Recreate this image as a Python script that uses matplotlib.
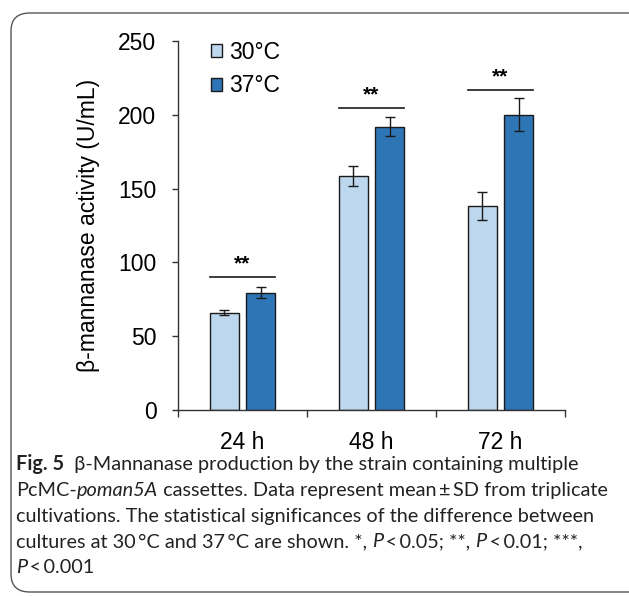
import numpy as np
import matplotlib.pyplot as plt
from matplotlib.patches import FancyBboxPatch

# datos
categorias = ['24 h', '48 h', '72 h']
media_30 = [66, 158.5, 138.5]
sd_30 = [1.5, 6.8, 9.5]
media_37 = [79.5, 192, 200]
sd_37 = [3.8, 6.3, 11.3]
sig_nivel = [90, 204.5, 217]
sig_texto = ['**', '**', '**']

fig = plt.figure(figsize=(6.29, 5.96), dpi=100)

# marco redondeado
marco = FancyBboxPatch((11 / 629, 4 / 596), 640 / 629, 579 / 596,
                       boxstyle='round,pad=0,rounding_size=0.03',
                       transform=fig.transFigure, fill=False,
                       edgecolor='#555555', linewidth=1.0, clip_on=False)
fig.patches.append(marco)

ax = fig.add_axes([178 / 629, 1 - 410 / 596, 387 / 629, 369 / 596])
chart_font = 'Liberation Sans'
fs = 16.5

x = np.arange(len(categorias))
w = 0.225
off = 0.143
ax.bar(x - off, media_30, w, color='#BDD7EE', edgecolor='#1a1a1a', linewidth=1.0,
       label='30°C', zorder=2)
ax.bar(x + off, media_37, w, color='#2E75B6', edgecolor='#1a1a1a', linewidth=1.0,
       label='37°C', zorder=2)
ax.errorbar(x - off, media_30, yerr=sd_30, fmt='none', ecolor='#1a1a1a',
            elinewidth=1.0, capsize=3.5, capthick=1.0, zorder=3)
ax.errorbar(x + off, media_37, yerr=sd_37, fmt='none', ecolor='#1a1a1a',
            elinewidth=1.0, capsize=3.5, capthick=1.0, zorder=3)

# lineas de significancia
for i in range(len(categorias)):
    ax.plot([x[i] - off - w / 2, x[i] + off + w / 2], [sig_nivel[i], sig_nivel[i]],
            color='#1a1a1a', linewidth=1.2, clip_on=False)
    ax.text(x[i], sig_nivel[i] + 2.5, sig_texto[i], ha='center', va='bottom',
            fontsize=15, family=chart_font, fontweight='bold')

ax.set_xlim(-0.5, 2.5)
ax.set_ylim(0, 250)
ax.set_yticks([0, 50, 100, 150, 200, 250])
ax.set_xticks(x)
ax.set_xticklabels(categorias)
ax.set_xticks([-0.5, 0.5, 1.5, 2.5], minor=True)
ax.tick_params(axis='x', which='major', length=0, pad=15)
ax.tick_params(axis='x', which='minor', length=5, width=1.0, color='#333333')
ax.tick_params(axis='y', length=4.5, width=1.0, color='#333333', pad=11)
for lab in ax.get_xticklabels() + ax.get_yticklabels():
    lab.set_fontfamily(chart_font)
    lab.set_fontsize(fs)
for s in ['top', 'right']:
    ax.spines[s].set_visible(False)
for s in ['left', 'bottom']:
    ax.spines[s].set_color('#333333')
    ax.spines[s].set_linewidth(1.0)
ax.set_ylabel('β-mannanase activity (U/mL)', fontsize=fs, family=chart_font, labelpad=13)

ax.legend(loc='upper left', bbox_to_anchor=(0.085, 1.0), frameon=False, borderpad=0,
          borderaxespad=0, handlelength=0.5, handleheight=0.5, handletextpad=0.3,
          labelspacing=0.45, prop={'family': chart_font, 'size': fs})

# pie de figura
cap_font = 'Lato'
cap_size = 14.3
th = '\u2009'
lineas = [
    [('Fig. 5', 'bold', 'normal'), ('  β-Mannanase production by the strain containing multiple', 'normal', 'normal')],
    [('PcMC-', 'normal', 'normal'), ('poman5A', 'normal', 'italic'),
     (' cassettes. Data represent mean' + th + '±' + th + 'SD from triplicate', 'normal', 'normal')],
    [('cultivations. The statistical significances of the difference between', 'normal', 'normal')],
    [('cultures at 30' + th + '°C and 37' + th + '°C are shown. *, ', 'normal', 'normal'),
     ('P', 'normal', 'italic'), (th + '<' + th + '0.05; **, ', 'normal', 'normal'),
     ('P', 'normal', 'italic'), (th + '<' + th + '0.01; ***,', 'normal', 'normal')],
    [('P', 'normal', 'italic'), (th + '<' + th + '0.001', 'normal', 'normal')],
]
fig.canvas.draw()
r = fig.canvas.get_renderer()
y0 = 470
for k, linea in enumerate(lineas):
    xp = 16
    yp = y0 + k * 25.8
    for txt, peso, estilo in linea:
        t = fig.text(xp / 629, 1 - yp / 596, txt, family=cap_font, fontsize=cap_size,
                     fontweight=peso, fontstyle=estilo, va='baseline', ha='left',
                     color='#222222')
        bb = t.get_window_extent(renderer=r)
        xp += bb.width

fig.savefig('out.png', dpi=100)
